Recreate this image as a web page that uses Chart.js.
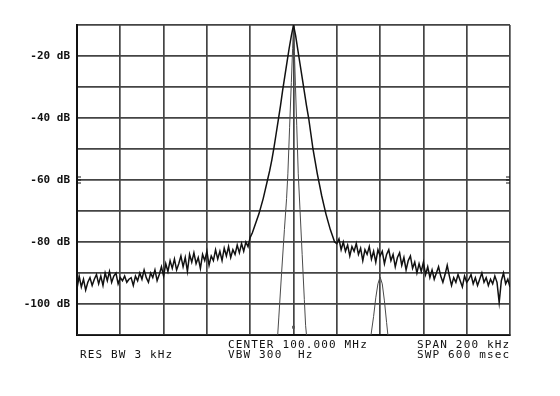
<!DOCTYPE html>
<html>
<head>
<meta charset="utf-8">
<title>Spectrum 100 MHz</title>
<script src="https://cdn.jsdelivr.net/npm/chart.js@4.4.1/dist/chart.umd.min.js"></script>
<style>
  body { margin: 0; background: #fff; }
  canvas { display: block; }
</style>
</head>
<body>
<canvas id="specChart" width="560" height="396"></canvas>
<script>
// truc tan so: lech so voi tam 100.000 MHz, don vi kHz (span 200 kHz)
const FREQ_MIN = -100;
const FREQ_MAX = 100;
const LEVEL_MIN = -110;
const LEVEL_MAX = -10;
const levelLabels = [-20, -40, -60, -80, -100];

// nhieu nen ben trai, 1 diem / kHz, tu -100 den -21 kHz
const noiseLeft = [
  -95, -91, -94.5, -92, -95.5, -93, -91.5, -94, -92, -90.5,
  -93.5, -91, -94, -90, -92.5, -89.5, -93, -91, -90, -93.5,
  -91.5, -92.5, -91, -93, -92, -91.5, -94, -91, -92.5, -90,
  -92, -89, -91.5, -93, -90, -91.5, -89, -92.5, -90.5, -88,
  -91, -87, -89.5, -86, -88.5, -85.5, -89, -87, -84.5, -88,
  -85, -89.5, -84, -86.5, -83.5, -87, -85, -88.5, -84, -86,
  -83, -87.5, -84.5, -86, -82.5, -85.5, -83, -86, -82, -84.5,
  -81.5, -85, -82.5, -84, -81, -83.5, -80.5, -83, -80, -81.5
];
// suon trai cua song mang, -20 .. -1 kHz
const skirtLeft = [
  -78.5, -77, -75, -73, -71, -68.5, -66, -63, -60, -57,
  -53.5, -49.5, -45, -40.5, -36, -31, -26.5, -22, -17.5, -13.5
];
const peakLevel = -10; // dinh tai 100.000 MHz
// suon phai, 1 .. 19 kHz
const skirtRight = [
  -13.5, -18, -22.5, -27, -31.5, -36, -40, -45, -50, -54,
  -58, -61.5, -65, -68, -71, -73.5, -76, -78, -80
];
// nhieu nen ben phai, 20 .. 100 kHz
const noiseRight = [
  -80.5, -79, -82.5, -80, -83, -81, -84.5, -81.5, -83, -80.5,
  -84, -82, -86, -82.5, -84, -81.5, -85.5, -83, -86.5, -82.5,
  -84.5, -83, -87, -84, -82.5, -86, -84, -88, -85, -83.5,
  -87.5, -85, -89, -86, -84.5, -88.5, -86.5, -90, -87, -89.5,
  -86.5, -90.5, -88, -91.5, -89, -92, -90, -88, -91, -93,
  -90.5, -87.5, -91, -94, -91.5, -93, -90.5, -92.5, -94.5, -91,
  -93, -92, -90.5, -93.5, -91.5, -94, -92, -90, -93, -91.5,
  -94, -92, -93.5, -91, -93, -99.5, -92.5, -90, -93.5, -92,
  -94.5
];

// vet thu hai (RBW hep): dinh chinh + tin hieu phu o +40 kHz
const narrowFreq = [
  -100, -7.3, -6.8, -5.5, -4.2, -3.2, -2.6, -1.8, -1.0, -0.4,
  0, 0.4, 0.9, 1.5, 2.2, 3.0, 4.0, 5.0, 5.6, 6.0,
  35.8, 37, 38, 39, 40, 41, 42, 43, 43.6, 100
];
const narrowLevel = [
  -110, -110, -104.5, -90, -76, -66, -58, -43, -28.5, -17.5,
  -10, -18.5, -29.5, -42.5, -58, -69.5, -84, -98.5, -107, -110,
  -110, -104, -98, -93.5, -91.3, -93.5, -99, -106, -110, -110
];
const markerFreq = [0];
const markerLevel = [-107.5];

const footerLines = [
  { text: "RES BW 3 kHz", col: 0, row: 1 },
  { text: "CENTER 100.000 MHz", col: 1, row: 0 },
  { text: "VBW 300  Hz", col: 1, row: 1 },
  { text: "SPAN 200 kHz", col: 2, row: 0 },
  { text: "SWP 600 msec", col: 2, row: 1 }
];

// ghep vet chinh tu cac doan
const mainTrace = [];
noiseLeft.forEach((v, i) => mainTrace.push({ x: FREQ_MIN + i, y: v }));
skirtLeft.forEach((v, i) => mainTrace.push({ x: -20 + i, y: v }));
mainTrace.push({ x: 0, y: peakLevel });
skirtRight.forEach((v, i) => mainTrace.push({ x: 1 + i, y: v }));
noiseRight.forEach((v, i) => mainTrace.push({ x: 20 + i, y: v }));

const narrowTrace = narrowFreq.map((f, i) => ({ x: f, y: narrowLevel[i] }));
const markerPts = markerFreq.map((f, i) => ({ x: f, y: markerLevel[i] }));

const GRID_COLOR = "#444";
const INK = "#111";

// nen trang
const whiteBg = {
  id: "whiteBg",
  beforeDraw(chart) {
    const c = chart.ctx;
    c.save();
    c.fillStyle = "#fff";
    c.fillRect(0, 0, chart.width, chart.height);
    c.restore();
  }
};

// chu thich phia duoi + vach nho o muc -60 dB
const footerText = {
  id: "footerText",
  afterDraw(chart) {
    const c = chart.ctx;
    const area = chart.chartArea;
    const colX = [80, 228, 417];
    const rowY = [area.bottom + 12.5, area.bottom + 23];
    c.save();
    c.font = "11px 'DejaVu Sans Mono', monospace";
    c.letterSpacing = "1.15px";
    c.fillStyle = INK;
    c.textBaseline = "alphabetic";
    footerLines.forEach(l => c.fillText(l.text, colX[l.col], rowY[l.row]));

    const y60 = chart.scales.y.getPixelForValue(-60);
    c.strokeStyle = INK;
    c.lineWidth = 1;
    [-3, 0, 3].forEach(d => {
      c.beginPath();
      c.moveTo(area.left, y60 + d); c.lineTo(area.left + 4, y60 + d);
      c.moveTo(area.right - 4, y60 + d); c.lineTo(area.right, y60 + d);
      c.stroke();
    });
    c.restore();
  }
};

const ctx = document.getElementById("specChart").getContext("2d");
const specChart = new Chart(ctx, {
  type: "line",
  data: {
    datasets: [
      {
        label: "trace A",
        data: mainTrace,
        borderColor: INK,
        borderWidth: 1.5,
        pointRadius: 0,
        tension: 0,
        fill: false,
        order: 1
      },
      {
        label: "trace B",
        data: narrowTrace,
        borderColor: "#4a4a4a",
        borderWidth: 1,
        pointRadius: 0,
        tension: 0,
        fill: false,
        order: 2
      },
      {
        label: "marker",
        data: markerPts,
        showLine: false,
        pointStyle: "rect",
        pointRadius: 2,
        backgroundColor: "#555",
        borderColor: "#555",
        borderWidth: 0,
        order: 3
      }
    ]
  },
  options: {
    responsive: false,
    animation: false,
    layout: { padding: { top: 25, right: 50, left: 0, bottom: 0 } },
    plugins: {
      legend: { display: false },
      tooltip: { enabled: false }
    },
    scales: {
      x: {
        type: "linear",
        min: FREQ_MIN,
        max: FREQ_MAX,
        ticks: { display: false, stepSize: 20 },
        grid: { color: GRID_COLOR, lineWidth: 1.7, drawTicks: false },
        border: { display: true, color: INK, width: 2 },
        afterFit: s => { s.height = 61; }
      },
      y: {
        min: LEVEL_MIN,
        max: LEVEL_MAX,
        ticks: {
          stepSize: 10,
          padding: 7,
          color: INK,
          font: { family: "'DejaVu Sans Mono', monospace", size: 11, weight: "bold" },
          callback: v => levelLabels.includes(v) ? v + " dB" : ""
        },
        grid: { color: GRID_COLOR, lineWidth: 1.7, drawTicks: false },
        border: { display: true, color: INK, width: 2 },
        afterFit: s => { s.width = 77; }
      }
    }
  },
  plugins: [whiteBg, footerText]
});
</script>
</body>
</html>
